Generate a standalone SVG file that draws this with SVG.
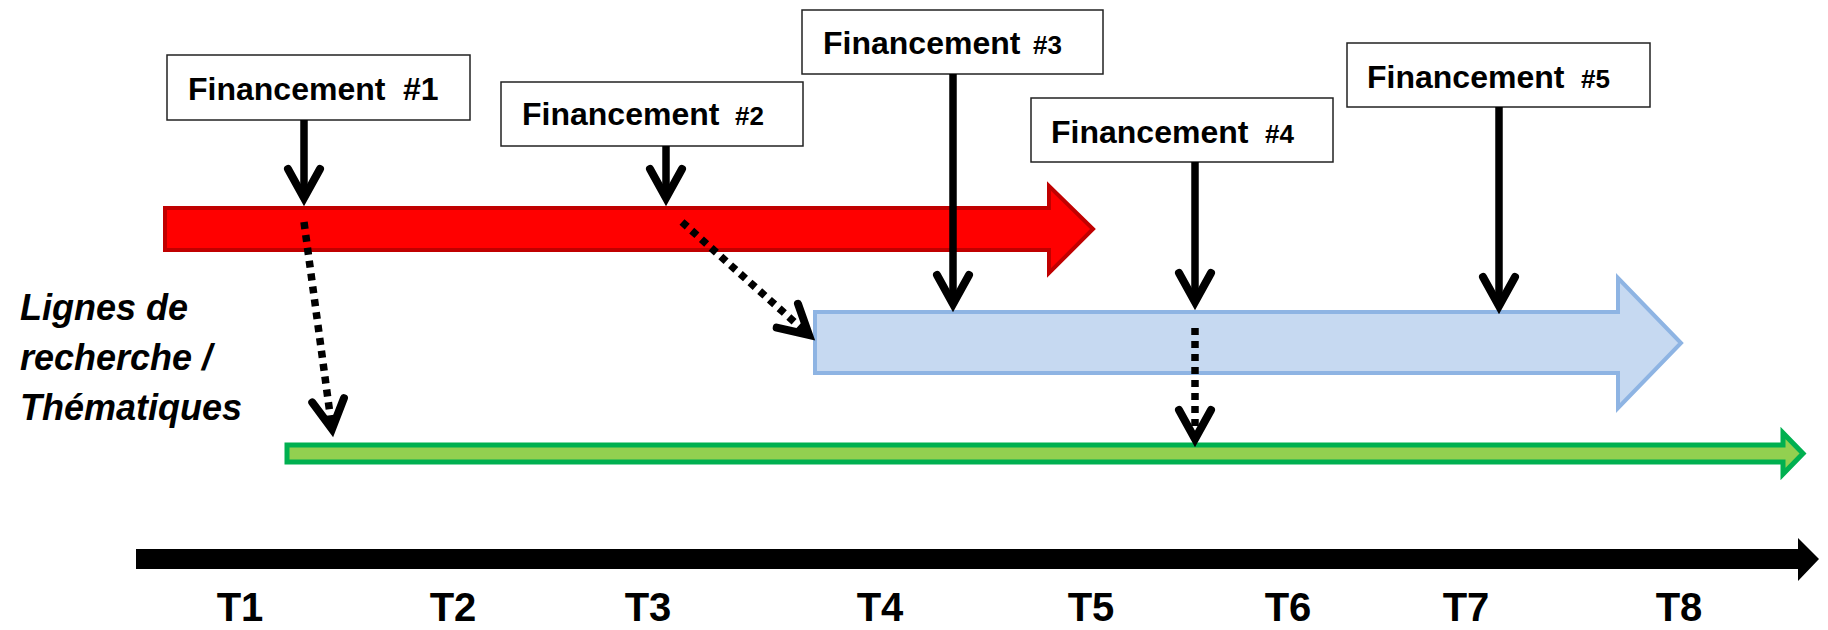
<svg xmlns="http://www.w3.org/2000/svg" width="1828" height="630" viewBox="0 0 1828 630">
<style>
.box{fill:#fff;stroke:#222;stroke-width:1.5}
.bt{font-family:"Liberation Sans",Arial,sans-serif;font-weight:bold;font-size:32px;fill:#000}
.num{font-size:26px}
.stem{stroke:#000;stroke-width:7.5;fill:none}
.dot{stroke:#000;stroke-width:7.5;fill:none;stroke-dasharray:7 6}
.tl{font-family:"Liberation Sans",Arial,sans-serif;font-weight:bold;font-size:40px;fill:#000;text-anchor:middle}
.side{font-family:"Liberation Sans",Arial,sans-serif;font-weight:bold;font-style:italic;font-size:36px;fill:#000}
</style>
<defs>
<marker id="chev" markerUnits="userSpaceOnUse" viewBox="-45 -25 55 50" markerWidth="55" markerHeight="50" refX="0" refY="0" orient="auto" overflow="visible">
<path d="M-29,-16 L0,0 L-29,16" fill="none" stroke="#000" stroke-width="8" stroke-linecap="round" stroke-linejoin="miter" stroke-miterlimit="10"/>
</marker>
</defs>
<rect width="1828" height="630" fill="#fff"/>

<g id="red-line">
<path d="M165,208 L1049,208 L1049,186 L1093,229 L1049,273 L1049,250 L165,250 Z" fill="#FF0000" stroke="#C00000" stroke-width="4"/>
</g>
<g id="blue-line">
<path d="M815,312 L1618,312 L1618,278 L1681,343 L1618,408 L1618,373 L815,373 Z" fill="#C6D9F1" stroke="#8EB4E3" stroke-width="4"/>
</g>
<g id="green-line">
<path d="M287,445 L1783,445 L1783,433 L1803,453.5 L1783,474 L1783,462 L287,462 Z" fill="#92D050" stroke="#00B050" stroke-width="5"/>
</g>
<g id="time-axis">
<path d="M136,549 L1798,549 L1798,538 L1819,559 L1798,581 L1798,569 L136,569 Z" fill="#000"/>
</g>

<g id="label-lignes">
<text class="side" x="20" y="320">Lignes de</text>
<text class="side" x="20" y="370">recherche /</text>
<text class="side" x="20" y="420">Thématiques</text>
</g>

<g id="fin1">
<rect class="box" x="167" y="55" width="303" height="65"/>
<text class="bt" x="188" y="100">Financement<tspan x="403">#1</tspan></text>
</g>
<g id="fin2">
<rect class="box" x="501" y="82" width="302" height="64"/>
<text class="bt" x="522" y="125">Financement<tspan class="num" x="735">#2</tspan></text>
</g>
<g id="fin3">
<rect class="box" x="802" y="10" width="301" height="64"/>
<text class="bt" x="823" y="54">Financement<tspan class="num" x="1033">#3</tspan></text>
</g>
<g id="fin4">
<rect class="box" x="1031" y="98" width="302" height="64"/>
<text class="bt" x="1051" y="143">Financement<tspan class="num" x="1265">#4</tspan></text>
</g>
<g id="fin5">
<rect class="box" x="1347" y="43" width="303" height="64"/>
<text class="bt" x="1367" y="88">Financement<tspan class="num" x="1581">#5</tspan></text>
</g>

<g id="connectors">
<line class="stem" x1="304" y1="120" x2="304" y2="198" marker-end="url(#chev)"/>
<line class="stem" x1="666" y1="146" x2="666" y2="198" marker-end="url(#chev)"/>
<line class="stem" x1="953" y1="74" x2="953" y2="304" marker-end="url(#chev)"/>
<line class="stem" x1="1195" y1="162" x2="1195" y2="302" marker-end="url(#chev)"/>
<line class="stem" x1="1499" y1="107" x2="1499" y2="306" marker-end="url(#chev)"/>
<line class="dot" x1="304" y1="222" x2="332" y2="429" marker-end="url(#chev)"/>
<line class="dot" x1="682" y1="222" x2="809" y2="335" marker-end="url(#chev)"/>
<line class="dot" x1="1195" y1="328" x2="1195" y2="439" marker-end="url(#chev)"/>
</g>

<g id="time-labels">
<text class="tl" x="240" y="621">T1</text>
<text class="tl" x="453" y="621">T2</text>
<text class="tl" x="648" y="621">T3</text>
<text class="tl" x="880" y="621">T4</text>
<text class="tl" x="1091" y="621">T5</text>
<text class="tl" x="1288" y="621">T6</text>
<text class="tl" x="1466" y="621">T7</text>
<text class="tl" x="1679" y="621">T8</text>
</g>
</svg>
